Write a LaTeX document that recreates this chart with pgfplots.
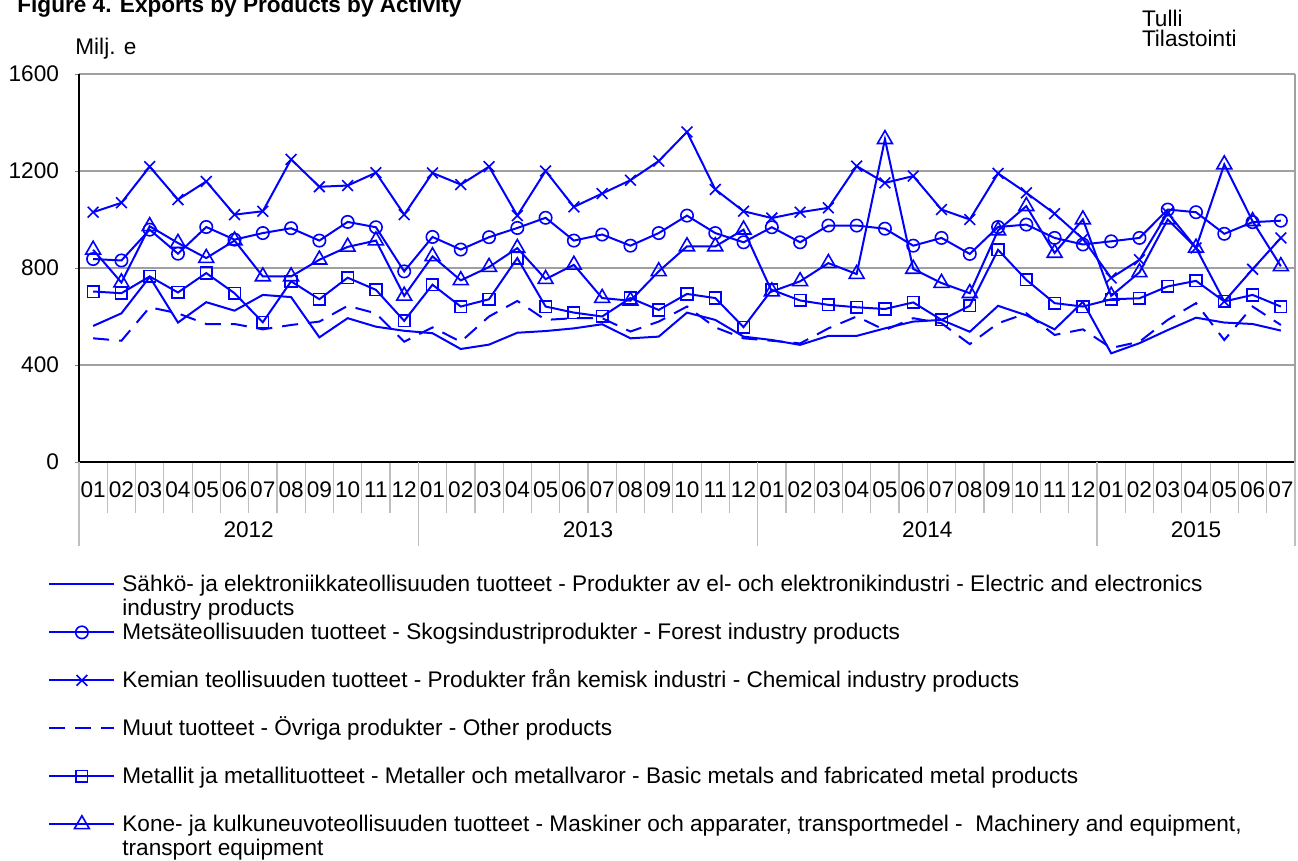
\documentclass[border=0pt]{standalone}
\usepackage{pgfplots}
\pgfplotsset{compat=1.18}
\usepackage{pgfplotstable}
\usepackage{fontspec}
\setmainfont{Liberation Sans}

\definecolor{ser}{RGB}{0,0,255}
\definecolor{gridgray}{RGB}{160,160,160}
\definecolor{tickgray}{RGB}{190,190,190}

% monthly exports, Milj. e (2012-01 ... 2015-07)
\pgfplotstableread{
i  elec forest chem other metal mach
0  561  837  1030 510 703 875
1  613  831  1069 500 696 740
2  763  958  1218 638 765 972
3  575  859  1082 613 699 903
4  659  969  1157 569 779 841
5  624  917  1020 569 696 913
6  689  944  1034 547 576 765
7  680  964  1248 565 745 765
8  514  913  1135 579 671 834
9  593  990  1140 644 760 887
10 558  968  1193 613 710 913
11 541  786  1020 496 582 685
12 531  928  1192 555 731 848
13 466  876  1144 496 641 749
14 484  927  1218 600 671 804
15 533  965  1016 664 841 882
16 540  1007 1200 586 641 754
17 551  913  1052 593 616 813
18 568  938  1107 593 600 676
19 510  892  1162 538 676 665
20 517  944  1241 579 627 786
21 616  1016 1361 641 693 889
22 586  944  1124 555 676 889
23 517  906  1034 510 556 958
24 503  968  1006 500 710 703
25 483  906  1030 489 666 745
26 520  975  1048 551 648 820
27 520  975  1220 600 638 775
28 551  962  1151 544 631 1331
29 579  892  1179 593 658 796
30 586  924  1041 572 586 738
31 537  858  1000 486 644 696
32 644  969  1190 572 875 955
33 605  979  1110 613 751 1055
34 547  924  1024 524 655 862
35 660  897  920  547 641 1000
36 448  910  759  470 671 685
37 490  924  834  496 675 782
38 544  1041 1027 586 724 1000
39 595  1030 883  655 747 883
40 575  941  662  503 662 1227
41 569  989  795  641 689 993
42 542  995  924  565 641 807
}\exports

\newcommand{\fs}{\fontsize{11.3}{13}\selectfont}

\begin{document}
\begin{tikzpicture}
\path[use as bounding box] (0,0) rectangle (649pt,430.5pt);

\node[anchor=base west, inner sep=0pt, font=\bfseries\fs] at (8.5pt,424.2pt) {Figure 4. Exports by Products by Activity};
\node[anchor=base west, inner sep=0pt, font=\fs] at (37.5pt,403pt) {Milj. e};
\node[anchor=base west, inner sep=0pt, font=\fs] at (570.8pt,417pt) {Tulli};
\node[anchor=base west, inner sep=0pt, font=\fs] at (570.8pt,407pt) {Tilastointi};

\begin{axis}[
  at={(39.5pt,199.5pt)}, anchor=south west,
  scale only axis, width=608pt, height=194pt,
  xmin=-0.5, xmax=42.5, ymin=0, ymax=1600,
  clip mode=individual,
  axis x line*=bottom, axis y line*=left,
  axis line style={black, line width=0.6pt, -},
  ytick={0,400,...,1600},
  ymajorgrids, grid style={gridgray, line width=0.6pt},
  tick align=outside,
  major tick length=2pt,
  xtick={0,...,42},
  xticklabels={01,02,03,04,05,06,07,08,09,10,11,12,
               01,02,03,04,05,06,07,08,09,10,11,12,
               01,02,03,04,05,06,07,08,09,10,11,12,
               01,02,03,04,05,06,07},
  every major x tick/.append style={draw=none},
  minor xtick={-0.5,0.5,...,42.5},
  minor tick length=25.5pt,
  every minor x tick/.append style={tickgray, line width=0.6pt},
  tick label style={font=\fs},
  xticklabel style={yshift=-4.2pt},
  yticklabel style={xshift=-4.5pt},
  /pgf/number format/assume math mode=true,
  /pgf/number format/1000 sep={},
  legend style={at={(-0.0255,-0.2835)}, anchor=north west, draw=none, fill=none,
    inner sep=0pt, row sep=0pt, column sep=3.5pt, font=\fs,
    nodes={inner sep=0pt, text height=9.5pt, text depth=2.5pt}},
  legend cell align=left,
  legend image code/.code={\draw[mark repeat=2,mark phase=2,#1] plot coordinates {(0pt,0pt) (16.25pt,0pt) (32.5pt,0pt)};},
  every axis plot/.append style={ser, line width=1pt},
  mark options={solid, line width=0.8pt},
]
\addplot[ser, no marks] table[x=i, y=elec] {\exports};
\addlegendentry{Sähkö- ja elektroniikkateollisuuden tuotteet - Produkter av el- och elektronikindustri - Electric and electronics}
\addlegendimage{empty legend}
\addlegendentry{industry products}

\addplot[ser, mark=o, mark size=3.1pt] table[x=i, y=forest] {\exports};
\addlegendentry{Metsäteollisuuden tuotteet - Skogsindustriprodukter - Forest industry products}
\addlegendimage{empty legend}
\addlegendentry{}

\addplot[ser, mark=x, mark size=3.8pt] table[x=i, y=chem] {\exports};
\addlegendentry{Kemian teollisuuden tuotteet - Produkter från kemisk industri - Chemical industry products}
\addlegendimage{empty legend}
\addlegendentry{}

\addplot[ser, no marks, dash pattern=on 8pt off 5pt] table[x=i, y=other] {\exports};
\addlegendentry{Muut tuotteet - Övriga produkter - Other products}
\addlegendimage{empty legend}
\addlegendentry{}

\addplot[ser, mark=square, mark size=2.9pt] table[x=i, y=metal] {\exports};
\addlegendentry{Metallit ja metallituotteet - Metaller och metallvaror - Basic metals and fabricated metal products}
\addlegendimage{empty legend}
\addlegendentry{}

\addplot[ser, mark=triangle, mark size=4.3pt] table[x=i, y=mach] {\exports};
\addlegendentry{Kone- ja kulkuneuvoteollisuuden tuotteet - Maskiner och apparater, transportmedel - \ Machinery and equipment,}
\addlegendimage{empty legend}
\addlegendentry{transport equipment}

% plot-area border on the right, year separators and year labels
\draw[gridgray, line width=0.6pt] (rel axis cs:1,0) -- (rel axis cs:1,1);
\draw[tickgray, line width=0.6pt] (axis cs:-0.5,0) -- ++(0pt,-42pt);
\draw[tickgray, line width=0.6pt] (axis cs:11.5,0) -- ++(0pt,-42pt);
\draw[tickgray, line width=0.6pt] (axis cs:23.5,0) -- ++(0pt,-42pt);
\draw[tickgray, line width=0.6pt] (axis cs:35.5,0) -- ++(0pt,-42pt);
\draw[tickgray, line width=0.6pt] (axis cs:42.5,0) -- ++(0pt,-42pt);
\node[font=\fs, yshift=-34pt] at (axis cs:5.5,0) {2012};
\node[font=\fs, yshift=-34pt] at (axis cs:17.5,0) {2013};
\node[font=\fs, yshift=-34pt] at (axis cs:29.5,0) {2014};
\node[font=\fs, yshift=-34pt] at (axis cs:39,0) {2015};
\end{axis}
\end{tikzpicture}
\end{document}
